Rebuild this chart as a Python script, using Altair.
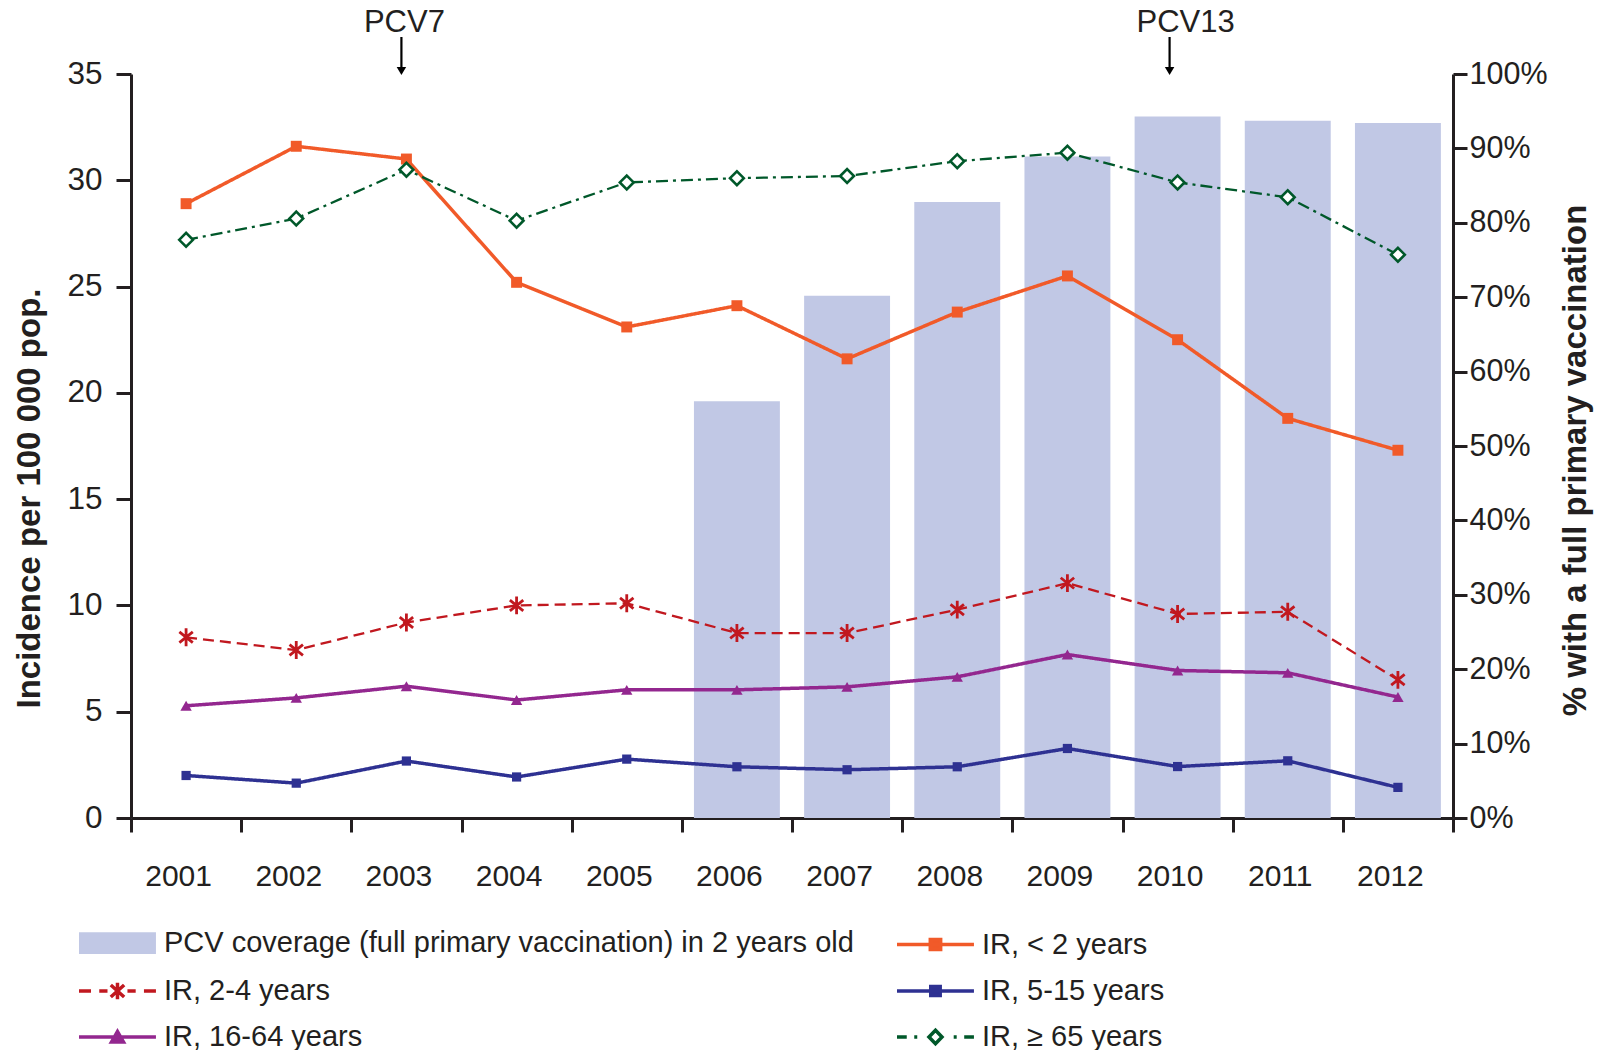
import altair as alt
import pandas as pd

# ---------------- data ----------------
years = [str(y) for y in range(2001, 2013)]
coverage = [None, None, None, None, None, 56.0, 70.2, 82.8, 88.9, 94.3, 93.7, 93.4]
ir_lt2 = [28.9, 31.6, 31.0, 25.2, 23.1, 24.1, 21.6, 23.8, 25.5, 22.5, 18.8, 17.3]
ir_2_4 = [8.5, 7.9, 9.2, 10.0, 10.1, 8.7, 8.7, 9.8, 11.05, 9.6, 9.7, 6.5]
ir_5_15 = [2.0, 1.64, 2.68, 1.93, 2.77, 2.41, 2.27, 2.41, 3.27, 2.42, 2.69, 1.44]
ir_16_64 = [5.28, 5.65, 6.2, 5.55, 6.03, 6.03, 6.17, 6.64, 7.69, 6.94, 6.83, 5.69]
ir_ge65 = [27.2, 28.2, 30.5, 28.1, 29.9, 30.1, 30.2, 30.9, 31.3, 29.9, 29.2, 26.5]

bar_name = "PCV coverage (full primary vaccination) in 2 years old"
series_names = ["IR, < 2 years", "IR, 2-4 years", "IR, 5-15 years",
                "IR, 16-64 years", "IR, \u2265 65 years"]
series_values = [ir_lt2, ir_2_4, ir_5_15, ir_16_64, ir_ge65]

annot_years = ["2003", "2010"]
annot_labels = ["PCV7", "PCV13"]

# ---------------- styles ----------------
FONT = "Liberation Sans"
INK = "#231f20"
BAR_COLOR = "#c1c8e5"
ASTERISK = "M0,-1L0,1M-0.75,-0.6L0.75,0.6M-0.75,0.6L0.75,-0.6"
styles = {
    "IR, < 2 years": dict(color="#f15a29", width=3.5, dash=[1, 0], shape="square", size=120, filled=True, sw=1),
    "IR, 2-4 years": dict(color="#c1181f", width=2.3, dash=[11, 6], shape=ASTERISK, size=320, filled=False, sw=2.8),
    "IR, 5-15 years": dict(color="#2e3192", width=3.5, dash=[1, 0], shape="square", size=85, filled=True, sw=1),
    "IR, 16-64 years": dict(color="#93278f", width=3.5, dash=[1, 0], shape="triangle-up", size=130, filled=True, sw=1),
    "IR, \u2265 65 years": dict(color="#00582a", width=2.3, dash=[12, 5, 3, 5], shape="diamond", size=190, filled=False, sw=2.6),
}

# legend entries in column-major order (2 columns x 3 rows)
legend_names = [bar_name, "IR, 2-4 years", "IR, 16-64 years",
                "IR, < 2 years", "IR, 5-15 years", "IR, \u2265 65 years"]
legend_path_map = {
    bar_name: "M-1,-0.72H4.13V0.72H-1Z",
    "IR, < 2 years": "M-1,0H4.13M1.22,-0.34H1.91V0.34H1.22Z",
    "IR, 2-4 years": "M-1,0H-0.2M0.35,0H0.9M1.565,-0.55V0.55M1.12,-0.4L2.01,0.4M1.12,0.4L2.01,-0.4M2.23,0H2.78M3.33,0H4.13",
    "IR, 5-15 years": "M-1,0H4.13M1.25,-0.3H1.88V0.3H1.25Z",
    "IR, 16-64 years": "M-1,0H4.13M1.165,0.34L1.565,-0.36L1.965,0.34Z",
    "IR, \u2265 65 years": "M-1,0H-0.35M0.15,0H0.35M1.565,-0.45L2.0,0L1.565,0.45L1.13,0ZM2.78,0H2.98M3.48,0H4.13",
}
legend_paths = [legend_path_map[n] for n in legend_names]
legend_strokes = ["transparent" if n == bar_name else styles[n]["color"] for n in legend_names]
legend_fill_map = {bar_name: BAR_COLOR, "IR, < 2 years": "#f15a29", "IR, 2-4 years": "transparent",
                   "IR, 5-15 years": "#2e3192", "IR, 16-64 years": "#93278f", "IR, \u2265 65 years": "#ffffff"}
legend_fills = [legend_fill_map[n] for n in legend_names]

# ---------------- frames ----------------
bar_df = pd.DataFrame({"year": years, "coverage": coverage}).dropna()
rows = []
for name, vals in zip(series_names, series_values):
    for y, v in zip(years, vals):
        rows.append({"year": y, "series": name, "value": v})
line_df = pd.DataFrame(rows)
annot_df = pd.DataFrame({"year": annot_years, "label": annot_labels})
legend_df = pd.DataFrame({"name": legend_names})

# ---------------- encodings ----------------
x_enc = alt.X(
    "year:N",
    scale=alt.Scale(domain=years, paddingInner=0, paddingOuter=0),
    axis=alt.Axis(title=None, tickBand="extent", labelAngle=0, labelFont=FONT,
                  labelFontSize=30, labelColor=INK, labelPadding=29, labelOffset=-8, tickSize=14,
                  tickWidth=3, tickColor=INK, domainWidth=3, domainColor=INK, grid=False),
)

y_left = alt.Y(
    "value:Q",
    scale=alt.Scale(domain=[0, 35]),
    axis=alt.Axis(values=[0, 5, 10, 15, 20, 25, 30, 35], title="Incidence per 100 000 pop.",
                  titleFont=FONT, titleFontSize=33, titleFontWeight="bold", titleColor=INK,
                  titleX=-102, titleY=424, titleBaseline="middle", titleAlign="center",
                  labelFont=FONT, labelFontSize=31.5, labelColor=INK, labelPadding=14,
                  tickSize=15, tickWidth=3, tickColor=INK, domainWidth=3, domainColor=INK,
                  grid=False),
)

y_right = alt.Y(
    "coverage:Q",
    scale=alt.Scale(domain=[0, 100]),
    axis=alt.Axis(orient="right", values=list(range(0, 101, 10)), labelExpr="datum.value + '%'",
                  title="% with a full primary vaccination", titleAngle=270,
                  titleFont=FONT, titleFontSize=33, titleFontWeight="bold", titleColor=INK,
                  titleX=122, titleY=386, titleBaseline="middle", titleAlign="center",
                  labelFont=FONT, labelFontSize=30.5, labelColor=INK, labelPadding=2,
                  tickSize=14, tickWidth=3, tickColor=INK, domainWidth=3, domainColor=INK,
                  grid=False),
)

bars = alt.Chart(bar_df).mark_bar(width=alt.RelativeBandSize(0.78), color=BAR_COLOR).encode(
    x=x_enc, y=y_right)

line_layers = []
point_layers = []
for name in series_names:
    st = styles[name]
    base = alt.Chart(line_df).transform_filter(alt.datum.series == name)
    line_layers.append(base.mark_line(color=st["color"], strokeWidth=st["width"],
                                      strokeDash=st["dash"]).encode(x=x_enc, y=y_left))
    if st["filled"]:
        pm = base.mark_point(shape=st["shape"], size=st["size"], filled=True,
                             color=st["color"], opacity=1, strokeWidth=st["sw"])
    else:
        pm = base.mark_point(shape=st["shape"], size=st["size"], filled=False,
                             stroke=st["color"], fill="#ffffff" if st["shape"] == "diamond" else "transparent",
                             opacity=1, strokeWidth=st["sw"])
    point_layers.append(pm.encode(x=x_enc, y=y_left))

# annotation offsets (text / arrow relative to band centre), per label
text_dx = {"PCV7": -2, "PCV13": 8}
arrow_dx = {"PCV7": -5, "PCV13": -8}
annot_layers = []
for lab in annot_labels:
    base = alt.Chart(annot_df).transform_filter(alt.datum.label == lab)
    annot_layers.append(base.mark_text(font=FONT, fontSize=31, color=INK, baseline="middle",
                                       dx=text_dx[lab]).encode(
        x=x_enc, y=alt.value(-51), text="label:N"))
    annot_layers.append(base.mark_rule(color="#000000", strokeWidth=2.2, xOffset=arrow_dx[lab]).encode(
        x=x_enc, y=alt.value(-37), y2=alt.value(-6)))
    annot_layers.append(base.mark_point(shape="triangle-down", size=90, filled=True, color="#000000",
                                        opacity=1, xOffset=arrow_dx[lab]).encode(
        x=x_enc, y=alt.value(-3)))

leg = alt.Legend(title=None, orient="none", legendX=-54, legendY=852, direction="vertical",
                 columns=2, symbolSize=900, symbolStrokeWidth=3.5, labelFont=FONT, labelFontSize=29,
                 labelColor=INK, labelLimit=1000, labelOffset=53, rowPadding=13, columnPadding=36,
                 padding=0)
legend_layer = alt.Chart(legend_df).transform_filter("false").mark_point(opacity=1, filled=True).encode(
    shape=alt.Shape("name:N", scale=alt.Scale(domain=legend_names, range=legend_paths), legend=leg),
    stroke=alt.Stroke("name:N", scale=alt.Scale(domain=legend_names, range=legend_strokes), legend=leg),
    fill=alt.Fill("name:N", scale=alt.Scale(domain=legend_names, range=legend_fills), legend=leg),
)

inner = alt.layer(*line_layers, *point_layers, *annot_layers, legend_layer)

chart = alt.layer(bars, inner).resolve_scale(y="independent").properties(
    width=1322, height=744,
    padding={"left": 123, "top": 66, "right": 141, "bottom": 232},
    autosize=alt.AutoSizeParams(type="none"),
    background="#ffffff",
).configure_view(strokeWidth=0)

chart.save("out.html", embed_options={"renderer": "svg", "actions": False})
